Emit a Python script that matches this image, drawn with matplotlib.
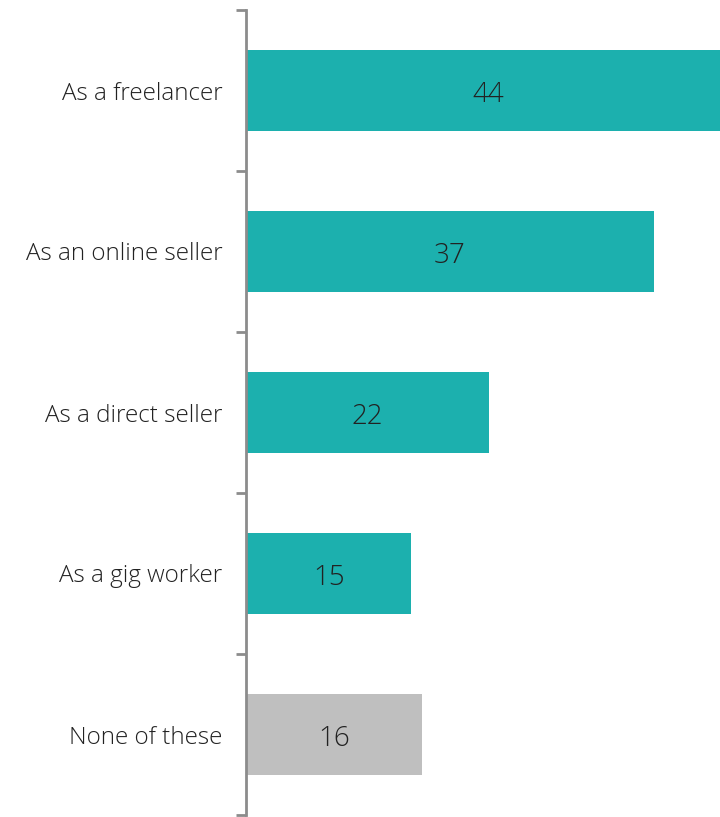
import matplotlib.pyplot as plt

categories = ['As a freelancer', 'As an online seller', 'As a direct seller',
              'As a gig worker', 'None of these']
values = [44, 37, 22, 15, 16]
colors = ['#1cb0ae', '#1cb0ae', '#1cb0ae', '#1cb0ae', '#bfbfbf']

plt.rcParams['font.family'] = ['Open Sans', 'DejaVu Sans']

fig = plt.figure(figsize=(7.2, 8.17), dpi=100)
ax = fig.add_axes([246 / 720, 2 / 817, 1 - 246 / 720, 805 / 817])

pos = range(len(categories))
ax.barh(pos, values, height=0.5, color=colors, zorder=1)
for p, v in zip(pos, values):
    ax.text(v / 2, p + 0.03, str(v), ha='center', va='center', fontsize=20,
            fontweight='light', color='#222222')

ax.set_xlim(0, 43)
ax.set_ylim(len(categories) - 0.5, -0.5)

ax.set_yticks(list(pos))
ax.set_yticklabels(categories, fontsize=17.5, fontweight='light', color='#222222')
ax.tick_params(axis='y', which='major', length=0, pad=17)
ax.set_yticks([i - 0.5 for i in range(len(categories) + 1)], minor=True)
ax.tick_params(axis='y', which='minor', length=7, width=2, color='#8c8c8c')
ax.set_xticks([])

for s in ['top', 'right', 'bottom']:
    ax.spines[s].set_visible(False)
ax.spines['left'].set_color('#8c8c8c')
ax.spines['left'].set_linewidth(2)
ax.spines['left'].set_zorder(3)

fig.savefig('out.png', dpi=100)
